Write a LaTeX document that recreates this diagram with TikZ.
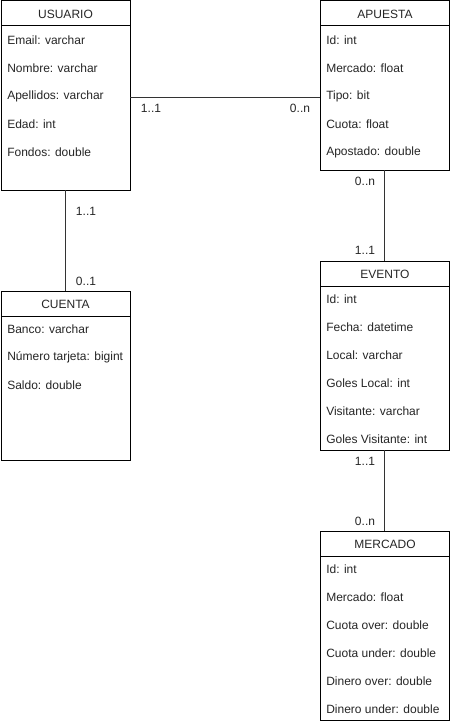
\documentclass[tikz,border=0pt]{standalone}
\usepackage{fontspec}
\setmainfont{Liberation Sans}
\begin{document}
\begin{tikzpicture}[x=0.75pt,y=-0.75pt,
  box/.style={draw=black,line width=0.75pt,inner sep=0pt,outer sep=0pt,minimum width=96.75pt,anchor=north west},
  tall/.style={box,minimum height=141.75pt},
  short/.style={box,minimum height=126.75pt},
  ttl/.style={font=\fontsize{9}{11}\selectfont,text=black!85,inner sep=0pt},
  attr/.style={font=\fontsize{9}{11}\selectfont,text=black!85,inner sep=0pt,anchor=west},
  card/.style={font=\fontsize{9}{11}\selectfont,text=black!85,inner sep=0pt},
  hdr/.style={draw=black,line width=0.75pt},
  conn/.style={draw=black!80,line width=0.75pt}]
\useasboundingbox (0,0) rectangle (451,724);
\fill[white] (0,0) rectangle (451,724);

% USUARIO
\node[tall] (usuario) at (1,1) {};
\draw[hdr] (usuario.west |- 0,26) -- (usuario.east |- 0,26);
\node[ttl] (usuarioT) at (65.5,14) {USUARIO};
\node[attr] (u1) at (7,40) {Email: varchar};
\node[attr] (u2) at (7,68) {Nombre: varchar};
\node[attr] (u3) at (7,96) {Apellidos: varchar};
\node[attr] (u4) at (7,124) {Edad: int};
\node[attr] (u5) at (7,152) {Fondos: double};

% APUESTA
\node[short] (apuesta) at (320,1) {};
\draw[hdr] (apuesta.west |- 0,26) -- (apuesta.east |- 0,26);
\node[ttl] (apuestaT) at (385,14) {APUESTA};
\node[attr] (a1) at (326,40) {Id: int};
\node[attr] (a2) at (326,68) {Mercado: float};
\node[attr] (a3) at (326,96) {Tipo: bit};
\node[attr] (a4) at (326,124) {Cuota: float};
\node[attr] (a5) at (326,152) {Apostado: double};

% CUENTA
\node[short] (cuenta) at (1,291) {};
\draw[hdr] (cuenta.west |- 0,316) -- (cuenta.east |- 0,316);
\node[ttl] (cuentaT) at (65.5,304) {CUENTA};
\node[attr] (c1) at (7,329) {Banco: varchar};
\node[attr] (c2) at (7,357) {Número tarjeta: bigint};
\node[attr] (c3) at (7,385) {Saldo: double};

% EVENTO
\node[tall] (evento) at (320,261) {};
\draw[hdr] (evento.west |- 0,286) -- (evento.east |- 0,286);
\node[ttl] (eventoT) at (385,274) {EVENTO};
\node[attr] (e1) at (326,299) {Id: int};
\node[attr] (e2) at (326,327) {Fecha: datetime};
\node[attr] (e3) at (326,355) {Local: varchar};
\node[attr] (e4) at (326,383) {Goles Local: int};
\node[attr] (e5) at (326,411) {Visitante: varchar};
\node[attr] (e6) at (326,439) {Goles Visitante: int};

% MERCADO
\node[tall] (mercado) at (320,531) {};
\draw[hdr] (mercado.west |- 0,556) -- (mercado.east |- 0,556);
\node[ttl] (mercadoT) at (385,544) {MERCADO};
\node[attr] (m1) at (326,569) {Id: int};
\node[attr] (m2) at (326,597) {Mercado: float};
\node[attr] (m3) at (326,625) {Cuota over: double};
\node[attr] (m4) at (326,653) {Cuota under: double};
\node[attr] (m5) at (326,681) {Dinero over: double};
\node[attr] (m6) at (326,709) {Dinero under: double};

% connectors
\draw[conn] (usuario.east |- 0,97.5) -- (apuesta.west |- 0,97.5);
\draw[conn] (usuario.south) -- (cuenta.north);
\draw[conn] (apuesta.south) -- (evento.north);
\draw[conn] (evento.south) -- (mercado.north);

% cardinalities
\node[card] (k1) at (151,108) {1..1};
\node[card] (k2) at (300,108) {0..n};
\node[card] (k3) at (86,211) {1..1};
\node[card] (k4) at (86,281) {0..1};
\node[card] (k5) at (365,181) {0..n};
\node[card] (k6) at (365,250) {1..1};
\node[card] (k7) at (365,461) {1..1};
\node[card] (k8) at (365,521) {0..n};
\end{tikzpicture}
\end{document}
